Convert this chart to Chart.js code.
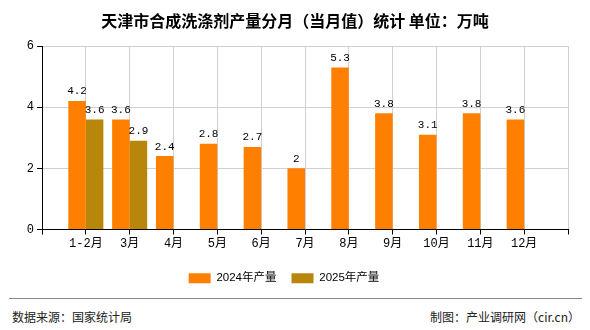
<!DOCTYPE html>
<html>
<head>
<meta charset="utf-8">
<script src="https://cdn.jsdelivr.net/npm/chart.js@4"></script>
<style>
    body { margin: 0; background: #fff; }
    #wrap { position: relative; width: 590px; height: 330px; }
    #title { position: absolute; left: 0; top: 8px; width: 590px; text-align: center; white-space: pre;
             font: bold 16px "Noto Sans CJK SC", sans-serif; color: #000; }
    #box { position: absolute; left: 0; top: 0; width: 590px; height: 294px; }
    #line { position: absolute; left: 9px; top: 298px; width: 573px; height: 1px; background: #888; }
    .foot { position: absolute; top: 308px; font: 12px "Noto Sans CJK SC", sans-serif; color: #222; }
</style>
</head>
<body>
<div id="wrap">
    <div id="box"><canvas id="chart"></canvas></div>
    <div id="title">天津市合成洗涤剂产量分月（当月值）统计 单位：万吨</div>
    <div id="line"></div>
    <div class="foot" style="left:12px">数据来源：国家统计局</div>
    <div class="foot" style="right:10px">制图：产业调研网（cir.cn）</div>
</div>
<script>
    // 数据
    const months = ["1-2月", "3月", "4月", "5月", "6月", "7月", "8月", "9月", "10月", "11月", "12月"];
    const data2024 = [4.2, 3.6, 2.4, 2.8, 2.7, 2, 5.3, 3.8, 3.1, 3.8, 3.6];
    const data2025 = [3.6, 2.9, null, null, null, null, null, null, null, null, null];
    const yTicks = [0, 2, 4, 6];

    // 两端留空位，让刻度落在格线上
    const labels = [""].concat(months, [""]);
    const pad = arr => [null].concat(arr, [null]);

    const numFont = '11px "Liberation Mono", "Noto Sans CJK SC", monospace';

    // 柱顶数值
    const valueLabels = {
        id: "valueLabels",
        afterDatasetsDraw(chart) {
            const ctx = chart.ctx;
            ctx.save();
            ctx.font = numFont;
            ctx.fillStyle = "#000";
            ctx.textAlign = "center";
            ctx.textBaseline = "bottom";
            chart.data.datasets.forEach((ds, i) => {
                chart.getDatasetMeta(i).data.forEach((bar, j) => {
                    const v = ds.data[j];
                    if (v === null) return;
                    ctx.fillText(String(v), bar.x, bar.y - 4);
                });
            });
            ctx.restore();
        }
    };

    new Chart(document.getElementById("chart"), {
        type: "bar",
        data: {
            labels: labels,
            datasets: [
                { label: "2024年产量", data: pad(data2024), backgroundColor: "#FF8000" },
                { label: "2025年产量", data: pad(data2025), backgroundColor: "#B8860B" }
            ]
        },
        options: {
            responsive: true,
            maintainAspectRatio: false,
            animation: false,
            layout: { padding: { left: 0, right: 22, top: 46, bottom: 0 } },
            datasets: { bar: { categoryPercentage: 0.8, barPercentage: 1 } },
            plugins: {
                legend: {
                    position: "bottom",
                    labels: {
                        boxWidth: 22, boxHeight: 10, padding: 15, color: "#000",
                        font: { family: '"Liberation Sans", "Noto Sans CJK SC", sans-serif', size: 11.5 }
                    }
                },
                title: { display: false },
                tooltip: { enabled: false }
            },
            scales: {
                x: {
                    offset: false,
                    grid: { color: "#d0d0d0", tickColor: "#000", tickLength: 5, offset: false },
                    border: { color: "#000", width: 1 },
                    ticks: { color: "#000", padding: 2, maxRotation: 0, autoSkip: false,
                             font: { family: '"Liberation Mono", "Noto Sans CJK SC", monospace', size: 12 } },
                    afterFit(scale) { scale.height = 28; }
                },
                y: {
                    min: 0, max: 6,
                    afterBuildTicks(scale) { scale.ticks = yTicks.map(v => ({ value: v })); },
                    grid: { color: "#d0d0d0", tickColor: "#000", tickLength: 5 },
                    border: { color: "#000", width: 1 },
                    ticks: { color: "#000", padding: 3,
                             font: { family: '"Liberation Mono", monospace', size: 12 } },
                    afterFit(scale) { scale.width = 42; }
                }
            }
        },
        plugins: [valueLabels]
    });
</script>
</body>
</html>
